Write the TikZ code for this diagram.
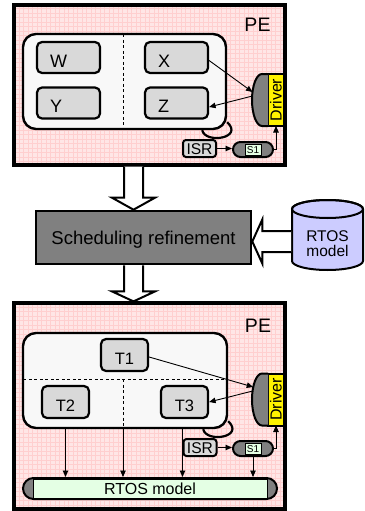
\documentclass[tikz,border=0pt]{standalone}
\usepackage{fontspec}
\setmainfont{Liberation Sans}
\usetikzlibrary{calc,arrows.meta}

\definecolor{pebg}{HTML}{FFE6E6}
\definecolor{pegrid}{HTML}{FFCFCF}
\definecolor{panel}{HTML}{F8F8F8}
\definecolor{taskgray}{HTML}{D9D9D9}
\definecolor{midgray}{HTML}{808080}
\definecolor{mint}{HTML}{E4FFE4}
\definecolor{rtosblue}{HTML}{CCCCFF}

\begin{document}
\begin{tikzpicture}[x=1pt,y=-1pt,
  pebox/.style={draw, line width=3.2pt, fill=pebg, inner sep=0pt,
    path picture={\draw[pegrid, line width=0.5pt]
      (path picture bounding box.south west) grid[step=4.5pt]
      (path picture bounding box.north east);}},
  pelabel/.style={inner sep=0pt, font=\fontsize{19.5}{21}\selectfont,
    text height=14pt, text depth=0pt},
  panelbox/.style={draw, line width=2.4pt, fill=panel, rounded corners=13pt},
  divider/.style={line width=0.9pt, dash pattern=on 3pt off 2.5pt,
    shorten <=1.5pt, shorten >=1.5pt},
  taskw/.style={draw, line width=2.2pt, fill=taskgray, rounded corners=5pt,
    minimum width=63pt, minimum height=31pt, text width=37pt, align=left,
    inner xsep=13pt, inner ysep=0pt, font=\fontsize{18}{20}\selectfont,
    text height=19.5pt, text depth=0pt},
  taskt/.style={draw, line width=2.2pt, fill=taskgray, rounded corners=5pt,
    minimum width=47pt, minimum height=32pt, inner sep=0pt,
    font=\fontsize{16.5}{18}\selectfont, text height=19.5pt, text depth=0pt},
  drvbox/.style={draw, line width=2pt, fill=yellow, outer sep=0pt,
    minimum width=16pt, minimum height=52pt, inner sep=0pt,
    font=\fontsize{16}{18}\selectfont},
  drvback/.style={draw, line width=2pt, fill=midgray},
  isrbox/.style={draw, line width=2pt, fill=taskgray, rounded corners=3pt,
    minimum width=33pt, minimum height=17pt, inner sep=0pt,
    font=\fontsize{15.6}{17}\selectfont, text height=11.2pt, text depth=0pt},
  capsule/.style={draw, line width=2pt, fill=midgray, inner sep=0pt},
  s1tag/.style={draw, line width=0.8pt, fill=mint, minimum width=16pt,
    minimum height=11pt, inner sep=0pt, font=\fontsize{10}{11}\selectfont,
    text height=7.2pt, text depth=0pt},
  bartag/.style={draw, line width=0.8pt, fill=mint, inner sep=0pt,
    font=\fontsize{16}{18}\selectfont, text height=11.5pt, text depth=0pt},
  schedbox/.style={draw, line width=2.6pt, fill=midgray,
    font=\fontsize{18.5}{20}\selectfont, text height=14.5pt, text depth=0pt},
  loopline/.style={line width=2.2pt},
  arr/.style={line width=0.9pt, -{Triangle[length=6.5pt,width=5.5pt]}},
  hollow/.style={draw, line width=2pt, fill=white, line join=miter},
]
\useasboundingbox (0,0) rectangle (364,511);

% ---------- upper processing element ----------
\node[pebox, minimum width=271pt, minimum height=160pt] (pe1) at (149.5,85) {};
\node[pelabel] (pe1lbl) at (257.5,25) {PE};
\node[panelbox, minimum width=203pt, minimum height=95pt] (in1) at (124.5,81.5) {};
\coordinate (sp1) at (123,81.5);
\draw[divider] (sp1 |- in1.north) -- (sp1 |- in1.south);

\node[taskw] (tw) at (68.5,57.5) {W};
\node[taskw] (tx) at (176.5,57.5) {X};
\node[taskw] (ty) at (68.5,103) {Y};
\node[taskw] (tz) at (176.5,103) {Z};

\node[drvbox] (drv1) at (276,100) {\rotatebox{90}{Driver}};
\filldraw[drvback] (drv1.north west) -- ++(-6,0)
  arc[start angle=270, end angle=90, x radius=10, y radius=26] -- (drv1.south west);

\node[isrbox] (isr1) at (199.5,148.5) {ISR};
\node[capsule, minimum width=40pt, minimum height=15pt, rounded corners=7.5pt] (s1a) at (253,149.5) {};
\node[s1tag] (s1b) at (s1a) {S1};

\draw[loopline] ([xshift=-25pt]in1.south east) .. controls +(3,14) and +(17,16) .. ([yshift=8pt]in1.south east);

\draw[arr] ([yshift=-3pt]tx.east) -- ([xshift=-15.5pt,yshift=8pt]drv1.west);
\draw[arr] ([xshift=-15.5pt,yshift=4pt]drv1.west) -- ([yshift=-4pt]tz.east);
\draw[arr] (isr1.east) -- (isr1.east -| s1a.west);
\draw[arr] (s1a.east) -| (drv1.south);

% ---------- refinement step ----------
\node[schedbox, minimum width=215pt, minimum height=53pt] (sched) at (143.5,237.5) {Scheduling refinement};

\node[minimum width=71pt, minimum height=70pt, inner sep=0pt, outer sep=0pt] (rtos) at (327.5,235) {};
\filldraw[draw, line width=2pt, fill=rtosblue]
  ([yshift=-9pt]rtos.north west) -- ([yshift=9pt]rtos.south west)
  arc[start angle=180, end angle=0, x radius=35.5, y radius=9]
  -- ([yshift=-9pt]rtos.north east)
  arc[start angle=0, end angle=-180, x radius=35.5, y radius=9] -- cycle;
\draw[line width=2pt] ([yshift=-9pt]rtos.north) ellipse[x radius=35.5, y radius=9];
\node[align=center, inner sep=0pt, font=\fontsize{15.5}{15}\selectfont] (rtoslbl) at (327.5,244) {RTOS\\model};

% ---------- lower processing element ----------
\node[pebox, minimum width=271pt, minimum height=206pt] (pe2) at (149.5,406) {};
\node[pelabel] (pe2lbl) at (258,325) {PE};
\node[panelbox, minimum width=204pt, minimum height=95pt] (in2) at (125,380.5) {};
\coordinate (sp2) at (123,379);
\draw[divider] (sp2 -| in2.west) -- (sp2 -| in2.east);
\draw[divider, shorten <=0pt] (sp2) -- (sp2 |- in2.south);

\node[taskt] (t1) at (124.5,355) {T1};
\node[taskt] (t2) at (65.5,402) {T2};
\node[taskt] (t3) at (184.5,402) {T3};

\node[drvbox] (drv2) at (276,399.5) {\rotatebox{90}{Driver}};
\filldraw[drvback] (drv2.north west) -- ++(-6,0)
  arc[start angle=270, end angle=90, x radius=10, y radius=26] -- (drv2.south west);

\node[isrbox] (isr2) at (200,447.5) {ISR};
\node[capsule, minimum width=40pt, minimum height=15pt, rounded corners=7.5pt] (s2a) at (253,448.5) {};
\node[s1tag] (s2b) at (s2a) {S1};

\draw[loopline] ([xshift=-25pt]in2.south east) .. controls +(3,14) and +(17,16) .. ([yshift=8pt]in2.south east);

\node[capsule, minimum width=254pt, minimum height=21pt, rounded corners=10.5pt] (bar) at (150,488.5) {};
\node[bartag, minimum width=234pt, minimum height=19pt] (barlbl) at (bar) {RTOS model};

\draw[arr] ([yshift=-2pt]t1.east) -- ([xshift=-14.8pt,yshift=12.5pt]drv2.west);
\draw[arr] ([xshift=-15.3pt,yshift=8.5pt]drv2.west) -- (t3.east);
\draw[arr] (isr2.east) -- (isr2.east -| s2a.west);
\draw[arr] (s2a.east) -| (drv2.south);
\draw[arr] (t2 |- in2.south) -- (t2 |- bar.north);
\draw[arr] (sp2 |- in2.south) -- (sp2 |- bar.north);
\draw[arr] (isr2.west |- in2.south) -- (isr2.west |- bar.north);
\draw[arr] (s2a.south) -- (s2a.south |- bar.north);

% ---------- hollow flow arrows ----------
\coordinate (ax) at (133.5,0);
\coordinate (a1s) at (ax |- pe1.south);
\coordinate (a1t) at (ax |- sched.north);
\filldraw[hollow] ([xshift=-9.5pt]a1s) -- ([xshift=-9.5pt,yshift=12pt]a1t)
  -- ([xshift=-21.5pt,yshift=12pt]a1t) -- (a1t)
  -- ([xshift=21.5pt,yshift=12pt]a1t) -- ([xshift=9.5pt,yshift=12pt]a1t)
  -- ([xshift=9.5pt]a1s);

\coordinate (a2s) at (ax |- sched.south);
\coordinate (a2t) at (ax |- pe2.north);
\filldraw[hollow] ([xshift=-9.5pt]a2s) -- ([xshift=-9.5pt,yshift=10pt]a2t)
  -- ([xshift=-21.5pt,yshift=10pt]a2t) -- (a2t)
  -- ([xshift=21.5pt,yshift=10pt]a2t) -- ([xshift=9.5pt,yshift=10pt]a2t)
  -- ([xshift=9.5pt]a2s);

\coordinate (ay) at (0,241.5);
\coordinate (a3s) at ([xshift=-1pt]rtos.west |- ay);
\coordinate (a3t) at (sched.east |- ay);
\filldraw[hollow] ([yshift=10.5pt]a3s) -- ([xshift=10pt,yshift=10.5pt]a3t)
  -- ([xshift=10pt,yshift=22pt]a3t) -- (a3t)
  -- ([xshift=10pt,yshift=-22pt]a3t) -- ([xshift=10pt,yshift=-10.5pt]a3t)
  -- ([yshift=-10.5pt]a3s);
\end{tikzpicture}
\end{document}
